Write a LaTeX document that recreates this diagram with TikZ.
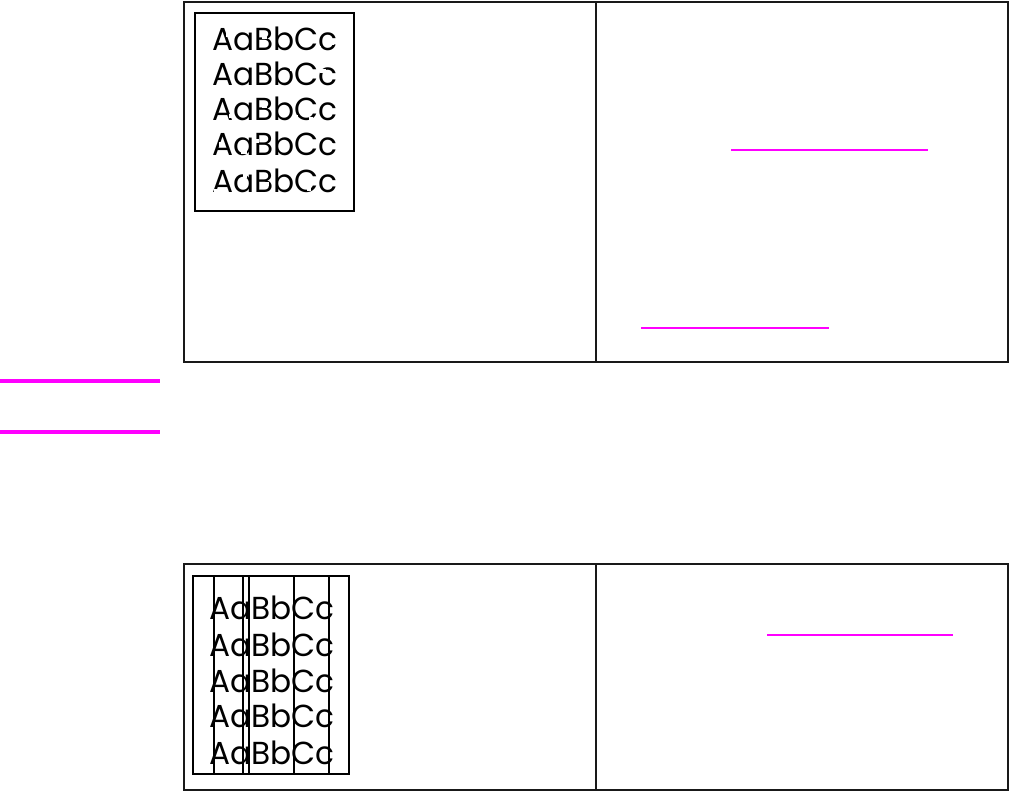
\documentclass[tikz,border=0pt]{standalone}
\usepackage{fontspec}
\usepackage{xcolor}
\usepackage{graphicx}
\usetikzlibrary{positioning,calc}
\newfontfamily\samplefont{Poppins}
\definecolor{linkmagenta}{RGB}{255,0,255}
\definecolor{rulegray}{RGB}{25,25,25}
\newcommand{\sampletext}{\scalebox{1}[1.02]{AaBbCc}}
\begin{document}
\begin{tikzpicture}[x=0.75pt,y=-0.75pt]
        \useasboundingbox (0,0) rectangle (1011,792);
        \tikzset{
            tablerule/.style={line width=2.2pt, rulegray},
            samplebox/.style={line width=0.8pt, black},
            sampleline/.style={anchor=base west, inner sep=0pt, font=\samplefont\fontsize{23.4}{24}\selectfont},
            linkrule/.style={line width=1.6pt, linkmagenta},
            dropout/.style={fill=white, draw=none}
        }
        % upper table: dropouts
        \draw[tablerule] (184,2) rectangle (1008,362);
        \draw[tablerule] (596,2) -- (596,362);
        \draw[samplebox] (195,13) rectangle (354,211);
        \foreach \yy/\nm in {51/a, 86/b, 121/c, 156/d, 192/e}
            \node[sampleline] (top\nm) at (212,\yy) {\sampletext};
        % speckled missing toner
        \foreach \px/\py/\w in {226/33/4, 262/35/5, 301/42/4, 316/46/5, 330/41/4, 214/61/4, 290/67/5, 320/69/6,
                                229/114/4, 262/104/5, 292/115/6, 309/117/4, 324/112/5, 219/142/5, 241/150/6, 254/139/5,
                                284/144/4, 328/143/5, 214/189/4, 243/174/4, 265/182/4, 307/187/4}
            \fill[dropout] (\px,\py) rectangle ++(\w,4);
        \draw[linkrule] (731,150) -- (928,150);
        \draw[linkrule] (641,328) -- (829,328);
        % margin rules
        \draw[line width=2.3pt, linkmagenta] (0,381) -- (160,381);
        \draw[line width=2.3pt, linkmagenta] (0,432) -- (160,432);
        % lower table: vertical lines
        \draw[tablerule] (184,564) rectangle (1008,790);
        \draw[tablerule] (596,564) -- (596,790);
        \draw[samplebox] (193,576) rectangle (349,774);
        \foreach \yy/\nm in {619/a, 656/b, 692/c, 727/d, 764/e}
            \node[sampleline] (bot\nm) at (209,\yy) {\sampletext};
        \foreach \vx in {214,243,249,294,329}
            \draw[samplebox] (\vx,576) -- (\vx,774);
        \draw[linkrule] (767,635) -- (953,635);
    \end{tikzpicture}
\end{document}
